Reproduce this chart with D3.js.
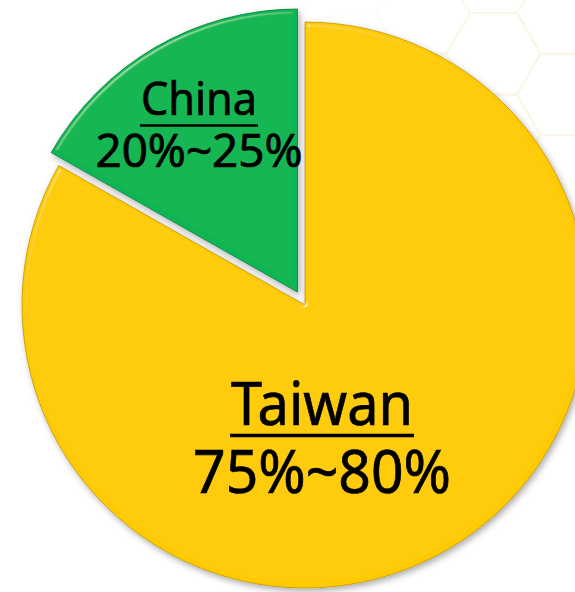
<!DOCTYPE html>
<html>
<head>
<meta charset="utf-8">
<script src="https://cdn.jsdelivr.net/npm/d3@7"></script>
<style>
  html, body { margin: 0; padding: 0; background: #ffffff; }
  svg { display: block; }
</style>
</head>
<body>
<svg id="chart" width="575" height="592"></svg>
<script>
// ---- data ----
const categories = ["Taiwan", "China"];
const shares = [83.2, 16.8];            // slice sizes
const rangeLabels = ["75%~80%", "20%~25%"];
const explode = [0, 15];                // China slice is pulled out

// ---- layout / style ----
const W = 575, H = 592;
const cx = 305, cy = 305, R = 283;
const fills = { Taiwan: "#ffcb00", China: "#0ab552" };
const edges = { Taiwan: "#c29300", China: "#067f38" };
const labelLayout = {
  Taiwan: { x: 322, y1: 425, y2: 493, fs: 60, w1: 182, w2: 258, ul: 435.5, ulw: 3.4 },
  China:  { x: 199, y1: 115, y2: 167, fs: 45, w1: 116, w2: 207, ul: 125.5, ulw: 2.6 }
};

const svg = d3.select("#chart");
const defs = svg.append("defs");

// bevel + drop shadow filter
const f = defs.append("filter").attr("id", "bevel")
  .attr("x", "-10%").attr("y", "-10%").attr("width", "125%").attr("height", "125%");
f.append("feGaussianBlur").attr("in", "SourceAlpha").attr("stdDeviation", 2.2).attr("result", "b");
const sp = f.append("feSpecularLighting").attr("in", "b").attr("surfaceScale", 4)
  .attr("specularConstant", 0.8).attr("specularExponent", 45)
  .attr("lighting-color", "#ffffff").attr("result", "s");
sp.append("feDistantLight").attr("azimuth", 235).attr("elevation", 40);
f.append("feComposite").attr("in", "s").attr("in2", "SourceAlpha").attr("operator", "in").attr("result", "s2");
f.append("feComposite").attr("in", "SourceGraphic").attr("in2", "s2").attr("operator", "arithmetic")
  .attr("k1", 0).attr("k2", 1).attr("k3", 0.4).attr("k4", 0).attr("result", "lit");
f.append("feGaussianBlur").attr("in", "SourceAlpha").attr("stdDeviation", 3).attr("result", "sb");
f.append("feOffset").attr("in", "sb").attr("dx", 2).attr("dy", 3).attr("result", "so");
f.append("feFlood").attr("flood-color", "#000").attr("flood-opacity", 0.32).attr("result", "sc");
f.append("feComposite").attr("in", "sc").attr("in2", "so").attr("operator", "in").attr("result", "shadow");
const mg = f.append("feMerge");
mg.append("feMergeNode").attr("in", "shadow");
mg.append("feMergeNode").attr("in", "lit");

// faint honeycomb background (top right)
const grad = defs.append("linearGradient").attr("id", "hexfade")
  .attr("x1", 0).attr("y1", 0).attr("x2", 1).attr("y2", 1);
grad.append("stop").attr("offset", "0%").attr("stop-color", "#000");
grad.append("stop").attr("offset", "35%").attr("stop-color", "#fff");
grad.append("stop").attr("offset", "100%").attr("stop-color", "#fff");
const mask = defs.append("mask").attr("id", "hexmask");
mask.append("rect").attr("x", 330).attr("y", 0).attr("width", 245).attr("height", 260)
  .attr("fill", "url(#hexfade)");

const s = 47, hh = Math.sqrt(3) * s;
const hexG = svg.append("g").attr("mask", "url(#hexmask)")
  .attr("fill", "none").attr("stroke", "#fbf6e6").attr("stroke-width", 2);
for (let i = -3; i <= 2; i++) {
  for (let j = -2; j <= 3; j++) {
    const hx = 493.5 + 1.5 * s * i;
    const hy = 53.7 + hh * (j + (Math.abs(i) % 2 ? -0.5 : 0));
    const pts = d3.range(6).map(k => {
      const a = Math.PI / 3 * k;
      return [hx + s * Math.cos(a), hy + s * Math.sin(a)];
    });
    hexG.append("path").attr("d", "M" + pts.join("L") + "Z");
  }
}

// pie
const rows = categories.map((c, i) => ({ name: c, value: shares[i], range: rangeLabels[i], ex: explode[i] }));
const pie = d3.pie().sort(null).value(d => d.value).startAngle(0).endAngle(2 * Math.PI);
const arc = d3.arc().innerRadius(0).outerRadius(R);
const arcs = pie(rows);

const g = svg.append("g").attr("transform", `translate(${cx},${cy})`);
g.selectAll("path.slice").data(arcs).join("path")
  .attr("class", "slice")
  .attr("transform", d => {
    const a = (d.startAngle + d.endAngle) / 2;
    return `translate(${Math.sin(a) * d.data.ex},${-Math.cos(a) * d.data.ex})`;
  })
  .attr("d", arc)
  .attr("fill", d => fills[d.data.name])
  .attr("stroke", d => edges[d.data.name])
  .attr("stroke-width", 0.8)
  .attr("filter", "url(#bevel)");

// labels
const font = "'Noto Sans', 'Open Sans', sans-serif";
arcs.forEach(d => {
  const L = labelLayout[d.data.name];
  svg.append("text")
    .attr("x", L.x).attr("y", L.y1)
    .attr("text-anchor", "middle")
    .attr("font-family", font).attr("font-size", L.fs)
    .attr("textLength", L.w1).attr("lengthAdjust", "spacingAndGlyphs")
    .attr("fill", "#000").attr("stroke", "#000").attr("stroke-width", 0.7)
    .text(d.data.name);
  svg.append("line")
    .attr("x1", L.x - L.w1 / 2 - 1).attr("x2", L.x + L.w1 / 2 + 1)
    .attr("y1", L.ul).attr("y2", L.ul)
    .attr("stroke", "#000").attr("stroke-width", L.ulw);
  svg.append("text")
    .attr("x", L.x).attr("y", L.y2)
    .attr("text-anchor", "middle")
    .attr("font-family", font).attr("font-size", L.fs)
    .attr("textLength", L.w2).attr("lengthAdjust", "spacingAndGlyphs")
    .attr("fill", "#000").attr("stroke", "#000").attr("stroke-width", 0.7)
    .text(d.data.range);
});
</script>
</body>
</html>
